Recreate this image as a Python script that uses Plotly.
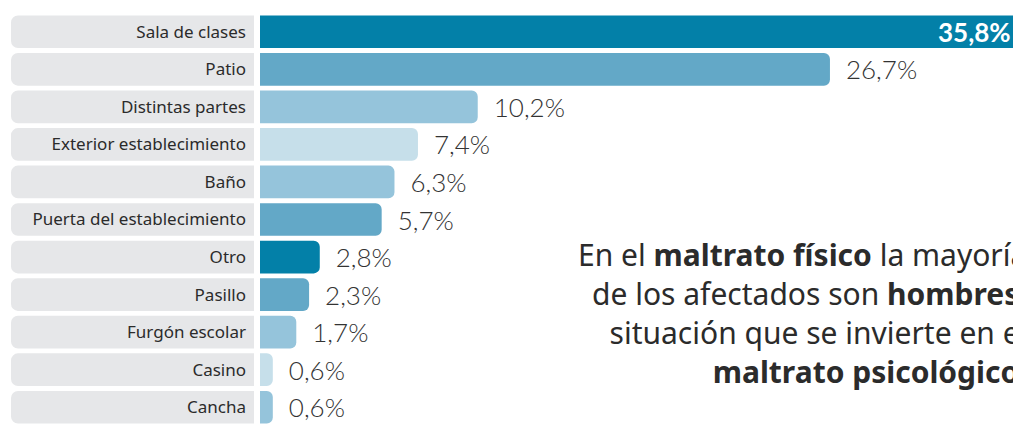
import plotly.graph_objects as go

categories = ["Sala de clases", "Patio", "Distintas partes", "Exterior establecimiento",
              "Baño", "Puerta del establecimiento", "Otro", "Pasillo",
              "Furgón escolar", "Casino", "Cancha"]
values = [35.8, 26.7, 10.2, 7.4, 6.3, 5.7, 2.8, 2.3, 1.7, 0.6, 0.6]
bar_colors = ["#0380a8", "#63a8c7", "#95c4db", "#c6dfea", "#95c4db", "#63a8c7",
              "#0380a8", "#63a8c7", "#95c4db", "#c6dfea", "#95c4db"]
label_box = [1] * len(categories)

note_lines = ["En el <b>maltrato físico</b> la mayoría",
              "de los afectados son <b>hombres</b>,",
              "situación que se invierte en el",
              "<b>maltrato psicológico</b>."]

LABEL_FONT = "Noto Sans"
VALUE_FONT = "Lato"

def fmt(v):
    return ("%.1f%%" % v).replace(".", ",")

texts = ["" if i == 0 else "\u2002" + fmt(v) for i, v in enumerate(values)]

fig = go.Figure()
fig.add_trace(go.Bar(
    y=categories, x=label_box, orientation="h",
    xaxis="x", yaxis="y",
    marker=dict(color="#e6e7e9", cornerradius=7, line=dict(width=0)),
    hoverinfo="skip", showlegend=False,
))
fig.add_trace(go.Bar(
    y=categories, x=values, orientation="h",
    xaxis="x2", yaxis="y",
    marker=dict(color=bar_colors, cornerradius=6, line=dict(width=0)),
    text=texts, textposition="outside",
    outsidetextfont=dict(family=VALUE_FONT, size=26, color="#333333", weight=300),
    cliponaxis=False, constraintext="none",
    showlegend=False,
))

# label of the top bar, which runs past the right edge
fig.add_annotation(
    text="<b>" + fmt(values[0]) + "</b>", xref="x2 domain", yref="y",
    x=0.99, y=categories[0], xanchor="right", yanchor="middle",
    showarrow=False, font=dict(family=VALUE_FONT, size=26, color="white"),
)

fig.add_annotation(
    text="<br>".join(note_lines), xref="paper", yref="paper",
    x=1.0, y=0.274, xanchor="right", yanchor="middle", align="right",
    showarrow=False, font=dict(family=LABEL_FONT, size=30, color="#2b2b2b"),
)

fig.update_layout(
    width=1021, height=424,
    margin=dict(l=0, r=0, t=5, b=6),
    paper_bgcolor="white", plot_bgcolor="rgba(0,0,0,0)",
    bargap=0.13,
    xaxis=dict(domain=[3/1021, 246/1021], range=[1, 0], visible=False, fixedrange=True),
    xaxis2=dict(domain=[252/1021, 1013/1021], range=[0, 35.65], visible=False, fixedrange=True),
    yaxis=dict(anchor="x2", autorange="reversed", showgrid=False, zeroline=False,
               showline=False, ticks="", ticklabelstandoff=13,
               tickfont=dict(family=LABEL_FONT, size=17, color="#2b2b2b")),
    font=dict(family=LABEL_FONT),
)

fig.write_html("out.html")
